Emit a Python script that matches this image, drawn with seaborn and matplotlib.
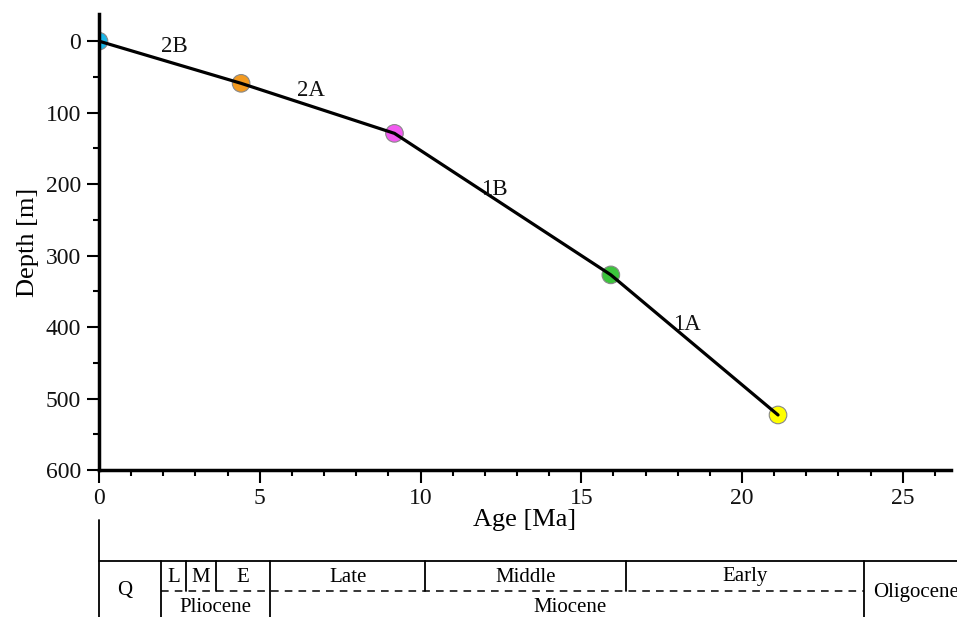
import matplotlib
matplotlib.use("Agg")
import matplotlib.pyplot as plt
import seaborn as sns
import pandas as pd
from matplotlib.ticker import MultipleLocator

# ---- data ----
ages = [0.0, 4.42, 9.19, 15.92, 21.12]
depths = [0.0, 59.0, 129.0, 327.0, 523.0]
point_ids = ["p0", "p1", "p2", "p3", "p4"]
point_colors = ["#1ab6e8", "#f39a1f", "#f25af0", "#3cc43c", "#ffff00"]

seg_labels = ["2B", "2A", "1B", "1A"]
seg_label_x = [2.35, 6.6, 12.3, 18.3]
seg_label_y = [8.0, 69.0, 207.0, 396.0]

# geological timescale
upper_bounds = [1.92, 2.71, 3.64, 5.33, 10.15, 16.4, 23.8]
full_bounds = [1.92, 5.33, 23.8]
upper_labels = ["L", "M", "E", "Late", "Middle", "Early"]
upper_label_x = [2.32, 3.17, 4.48, 7.74, 13.27, 20.1]
lower_labels = ["Q", "Pliocene", "Miocene"]
lower_label_x = [0.8, 3.63, 14.65]

df = pd.DataFrame({"age": ages, "depth": depths, "pid": point_ids})

sns.set_style("ticks")
plt.rcParams["font.family"] = ["Liberation Serif", "DejaVu Serif"]
plt.rcParams["text.color"] = "black"
plt.rcParams["axes.labelcolor"] = "black"
plt.rcParams["xtick.color"] = "black"
plt.rcParams["ytick.color"] = "black"

W, H = 957, 617
fig = plt.figure(figsize=(W / 100, H / 100), dpi=100)
ax = fig.add_axes([99 / W, 1 - 470 / H, (951 - 99) / W, (470 - 14) / H])

sns.scatterplot(data=df, x="age", y="depth", hue="pid",
                palette=dict(zip(point_ids, point_colors)),
                s=160, edgecolor="#888888", linewidth=0.8, legend=False,
                ax=ax, zorder=2)
sns.lineplot(data=df, x="age", y="depth", color="black", linewidth=2.3,
             ax=ax, zorder=3, sort=False)

for t, x, y in zip(seg_labels, seg_label_x, seg_label_y):
    ax.text(x, y, t, fontsize=16.5, ha="center", va="center", color="#111111")

XMAX = 26.5
ax.set_xlim(0, XMAX)
ax.set_ylim(600, -38)
ax.xaxis.set_major_locator(MultipleLocator(5))
ax.xaxis.set_minor_locator(MultipleLocator(1))
ax.yaxis.set_major_locator(MultipleLocator(100))
ax.yaxis.set_minor_locator(MultipleLocator(50))
ax.tick_params(which="major", length=9, width=1.5, labelsize=17, direction="out",
               color="black", labelcolor="#111111")
ax.tick_params(which="minor", length=4, width=1.5, direction="out", color="black")
ax.tick_params(axis="x", pad=4)
ax.tick_params(axis="y", pad=4)
for side in ["top", "right"]:
    ax.spines[side].set_visible(False)
for side in ["left", "bottom"]:
    ax.spines[side].set_linewidth(2.5)
    ax.spines[side].set_color("black")
ax.set_xlabel("Age [Ma]", fontsize=19, labelpad=0)
ax.set_ylabel("Depth [m]", fontsize=19, labelpad=5)

# ---- timescale axes ----
ax2 = fig.add_axes([99 / W, 0, (951 - 99) / W, (617 - 520) / H])
ax2.set_xlim(0, XMAX)
ax2.set_ylim(0, 1)
ax2.axis("off")
y_top = (617 - 561) / 97
y_mid = (617 - 591) / 97
ax2.plot([0, 0], [0, 1], color="black", lw=1.3, clip_on=False)
ax2.plot([0, XMAX + 0.2], [y_top, y_top], color="black", lw=1.3, clip_on=False)
ax2.plot([upper_bounds[0], full_bounds[-1]], [y_mid, y_mid], color="black", lw=1.1,
         ls=(0, (5, 4)), clip_on=False)
for b in upper_bounds:
    if b in full_bounds:
        ax2.plot([b, b], [0, y_top], color="black", lw=1.3, clip_on=False)
    else:
        ax2.plot([b, b], [y_mid, y_top], color="black", lw=1.3, clip_on=False)
for t, x in zip(upper_labels, upper_label_x):
    ax2.text(x, (617 - 577) / 97, t, fontsize=15, ha="center", va="center")
for t, x in zip(lower_labels, lower_label_x):
    yy = (617 - 591) / 97 if t == "Q" else (617 - 607) / 97
    ax2.text(x, yy, t, fontsize=15, ha="center", va="center")
ax2.text(24.07, (617 - 593) / 97, "Oligocene", fontsize=15, ha="left", va="center",
         clip_on=False)

fig.savefig("out.png", dpi=100)
